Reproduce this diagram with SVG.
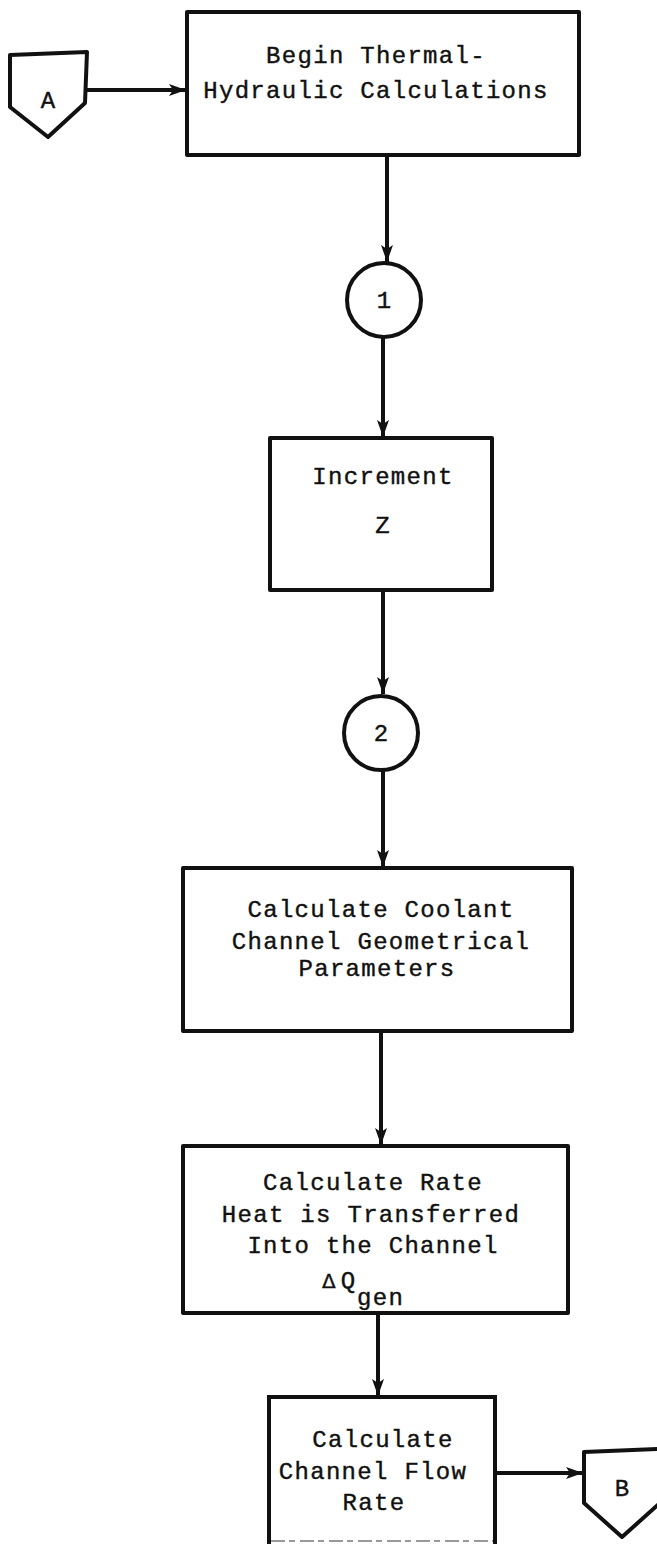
<svg xmlns="http://www.w3.org/2000/svg" width="657" height="1544" viewBox="0 0 657 1544">
  <style>
    .box { fill: #fff; stroke: #111; stroke-width: 4; stroke-linejoin: round; }
    .line { fill: none; stroke: #111; stroke-width: 4; }
    .txt { font-family: "Liberation Mono", "DejaVu Sans Mono", monospace; font-size: 24px; letter-spacing: 1.3px; fill: #111; stroke: #111; stroke-width: 0.4; text-anchor: middle; }
    .lbl { font-family: "Liberation Mono", "DejaVu Sans Mono", monospace; font-size: 24px; fill: #111; stroke: #111; stroke-width: 0.4; text-anchor: middle; }
    .start { text-anchor: start; }
  </style>
  <defs>
    <marker id="arrow" markerUnits="userSpaceOnUse" markerWidth="20" markerHeight="14" viewBox="-18 -7 20 14" refX="0" refY="0" orient="auto">
      <path d="M0,0 L-17,-6 L-13,0 L-17,6 Z" fill="#111"/>
    </marker>
  </defs>
  <rect width="657" height="1544" fill="#fff"/>

  <!-- connectors -->
  <g id="connectors">
    <path class="line" d="M86,90 H186" marker-end="url(#arrow)"/>
    <path class="line" d="M387,155 V262" marker-end="url(#arrow)"/>
    <path class="line" d="M383,337 V437" marker-end="url(#arrow)"/>
    <path class="line" d="M383,590 V694" marker-end="url(#arrow)"/>
    <path class="line" d="M383,771 V867" marker-end="url(#arrow)"/>
    <path class="line" d="M381,1031 V1145" marker-end="url(#arrow)"/>
    <path class="line" d="M378,1313 V1396" marker-end="url(#arrow)"/>
    <path class="line" d="M495,1473 H583" marker-end="url(#arrow)"/>
  </g>

  <!-- off-page connector A -->
  <g id="connA">
    <path class="box" d="M10,55 L87,52 L85,103 L48,137 L10,107 Z"/>
    <text class="lbl" x="48" y="108">A</text>
  </g>

  <!-- start box -->
  <g id="begin">
    <rect class="box" x="187" y="12" width="392" height="143"/>
    <text class="txt" x="376" y="63">Begin Thermal-</text>
    <text class="txt" x="376" y="98">Hydraulic Calculations</text>
  </g>

  <!-- connector 1 -->
  <g id="c1">
    <circle class="box" cx="384" cy="300" r="37"/>
    <text class="lbl" x="384" y="308">1</text>
  </g>

  <!-- increment Z -->
  <g id="increment">
    <rect class="box" x="270" y="438" width="222" height="152"/>
    <text class="txt" x="383" y="484">Increment</text>
    <text class="txt" x="383" y="533">Z</text>
  </g>

  <!-- connector 2 -->
  <g id="c2">
    <circle class="box" cx="381" cy="733" r="37"/>
    <text class="lbl" x="381" y="741">2</text>
  </g>

  <!-- geometry box -->
  <g id="geometry">
    <rect class="box" x="183" y="868" width="389" height="163"/>
    <text class="txt" x="381" y="917">Calculate Coolant</text>
    <text class="txt" x="381" y="949">Channel Geometrical</text>
    <text class="txt" x="377" y="976">Parameters</text>
  </g>

  <!-- heat rate box -->
  <g id="heat">
    <rect class="box" x="183" y="1146" width="385" height="167"/>
    <text class="txt" x="373" y="1190">Calculate Rate</text>
    <text class="txt" x="371" y="1222">Heat is Transferred</text>
    <text class="txt" x="373" y="1253">Into the Channel</text>
    <text class="lbl start" x="322" y="1288"><tspan font-family="DejaVu Sans, sans-serif" font-size="20">Δ</tspan><tspan dx="5">Q</tspan><tspan dx="2" dy="17" letter-spacing="1.3">gen</tspan></text>
  </g>

  <!-- flow rate box -->
  <g id="flow">
    <path class="line" d="M269,1544 V1397 H495 V1544"/>
    <path d="M271,1541 H493" fill="none" stroke="#999" stroke-width="2" stroke-dasharray="14 4 6 5"/>
    <text class="txt" x="383" y="1447">Calculate</text>
    <text class="txt" x="373" y="1479">Channel Flow</text>
    <text class="txt" x="374" y="1510">Rate</text>
  </g>

  <!-- off-page connector B -->
  <g id="connB">
    <path class="box" d="M584,1452 L660,1449 L660,1503 L622,1537 L584,1503 Z"/>
    <text class="lbl" x="622" y="1496">B</text>
  </g>
</svg>
